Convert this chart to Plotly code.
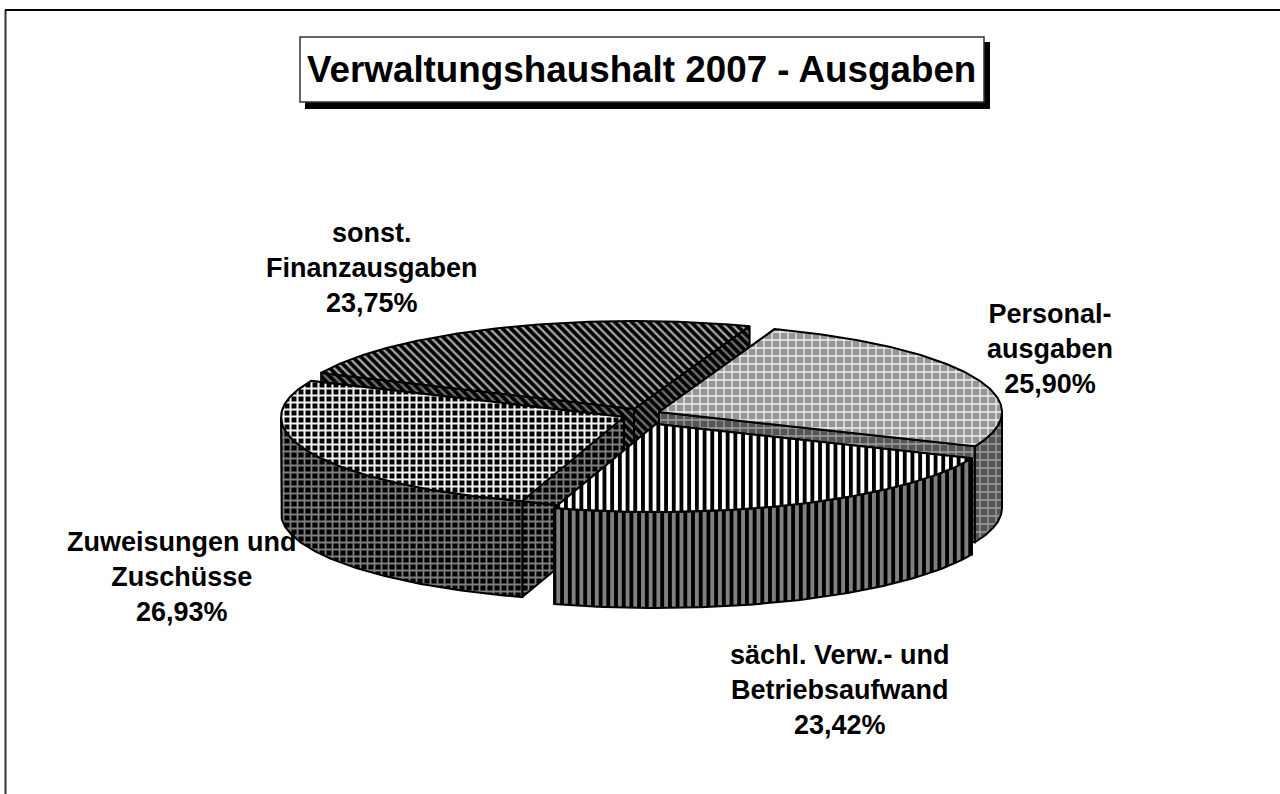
import numpy as np
import plotly.graph_objects as go

categories = ["Personal-<br>ausgaben", "sächl. Verw.- und<br>Betriebsaufwand",
              "Zuweisungen und<br>Zuschüsse", "sonst.<br>Finanzausgaben"]
values = [25.90, 23.42, 26.93, 23.75]
value_labels = ["25,90%", "23,42%", "26,93%", "23,75%"]
title_text = "Verwaltungshaushalt 2007 - Ausgaben"

# layout of the pseudo-3D pie (pixel-scaled axes)
RX, RY, DEPTH = 343, 88, 96
START_DEG = 19.7
centres = [(659, 412), (656, 424), (624, 417), (634, 409)]   # exploded slice centres
label_pos = [(1050, 349), (840, 690), (182, 577), (372, 268)]

top_styles = [
    dict(bg="#969696", fg="#f0f0f0", shape="+", size=8, sol=0.3),
    dict(bg="#ffffff", fg="#000000", shape="|", size=7.7, sol=0.5),
    dict(bg="#000000", fg="#f4f4f4", shape="+", size=7, sol=0.5),
    dict(bg="#000000", fg="#a8a8a8", shape="\\", size=6, sol=0.38),
]
wall_styles = [
    dict(bg="#555555", fg="#a0a0a0", shape="+", size=8, sol=0.3),
    dict(bg="#000000", fg="#808080", shape="|", size=7.7, sol=0.5),
    dict(bg="#000000", fg="#808080", shape="+", size=7, sol=0.45),
    dict(bg="#000000", fg="#707070", shape="\\", size=6, sol=0.38),
]


def pt(c, deg, dz=0):
    r = np.radians(deg)
    return c[0] + RX * np.sin(r), c[1] - RY * np.cos(r) + dz


def add_poly(fig, xs, ys, st):
    fig.add_trace(go.Scatter(
        x=list(xs), y=list(ys), mode="lines", fill="toself", hoverinfo="skip",
        line=dict(color="black", width=2),
        fillcolor=st["bg"],
        fillpattern=dict(shape=st["shape"], bgcolor=st["bg"], fgcolor=st["fg"],
                         size=st["size"], solidity=st["sol"], fillmode="replace"),
    ))


def add_wall_segment(fig, c, a0, a1, st):
    arc = np.linspace(a0, a1, 80)
    x, y = pt(c, arc)
    add_poly(fig, np.r_[x, x[::-1], x[0]], np.r_[y, y[::-1] + DEPTH, y[0]], st)


def add_cut_wall(fig, c, deg, st):
    x, y = pt(c, deg)
    add_poly(fig, [c[0], x, x, c[0], c[0]], [c[1], y, y + DEPTH, c[1] + DEPTH, c[1]], st)


def add_slice(fig, idx, a0, a1):
    c = centres[idx]
    wall, top = wall_styles[idx], top_styles[idx]
    add_cut_wall(fig, c, a0, wall)
    add_cut_wall(fig, c, a1, wall)
    # outer rim: only the front half (90..270 deg) faces the viewer
    lo, hi = max(a0, 90), min(a1, 270)
    if lo < hi:
        add_wall_segment(fig, c, lo, hi, wall)
    arc = np.linspace(a0, a1, 120)
    x, y = pt(c, arc)
    add_poly(fig, np.r_[c[0], x, c[0]], np.r_[c[1], y, c[1]], top)


fig = go.Figure()

# slice angles come from the values
shares = np.array(values) / sum(values) * 360
starts = START_DEG + np.r_[0, np.cumsum(shares)[:-1]]
ends = starts + shares

for idx in [3, 0, 2, 1]:
    add_slice(fig, idx, starts[idx], ends[idx])

annotations = []
for cat, val, (lx, ly) in zip(categories, value_labels, label_pos):
    annotations.append(dict(x=lx, y=ly, xref="x", yref="y", text=f"<b>{cat}<br>{val}</b>",
                            showarrow=False, align="center", xanchor="center", yanchor="middle",
                            font=dict(family="Liberation Sans", size=27, color="black")))
annotations.append(dict(x=641.5, y=69, xref="x", yref="y", text=f"<b>{title_text}</b>",
                        showarrow=False, xanchor="center", yanchor="middle",
                        font=dict(family="Liberation Sans", size=36.8, color="black")))

shapes = [
    dict(type="rect", x0=305, y0=42, x1=990, y1=109, fillcolor="black", line_width=0, layer="above"),
    dict(type="rect", x0=300, y0=37, x1=984, y1=102, fillcolor="white",
         line=dict(color="#333333", width=1.5), layer="above"),
    dict(type="line", x0=5.5, y0=10, x1=5.5, y1=794, line=dict(color="#333333", width=2), layer="above"),
    dict(type="line", x0=5, y0=10, x1=1280, y1=10, line=dict(color="black", width=2), layer="above"),
]

fig.update_layout(
    width=1280, height=794, margin=dict(l=0, r=0, t=0, b=0), showlegend=False,
    paper_bgcolor="white", plot_bgcolor="white",
    xaxis=dict(range=[0, 1280], visible=False, fixedrange=True),
    yaxis=dict(range=[794, 0], visible=False, fixedrange=True),
    shapes=shapes, annotations=annotations,
)
fig.write_html("out.html", post_script="document.body.style.margin='0';",
               config={"displayModeBar": False})
